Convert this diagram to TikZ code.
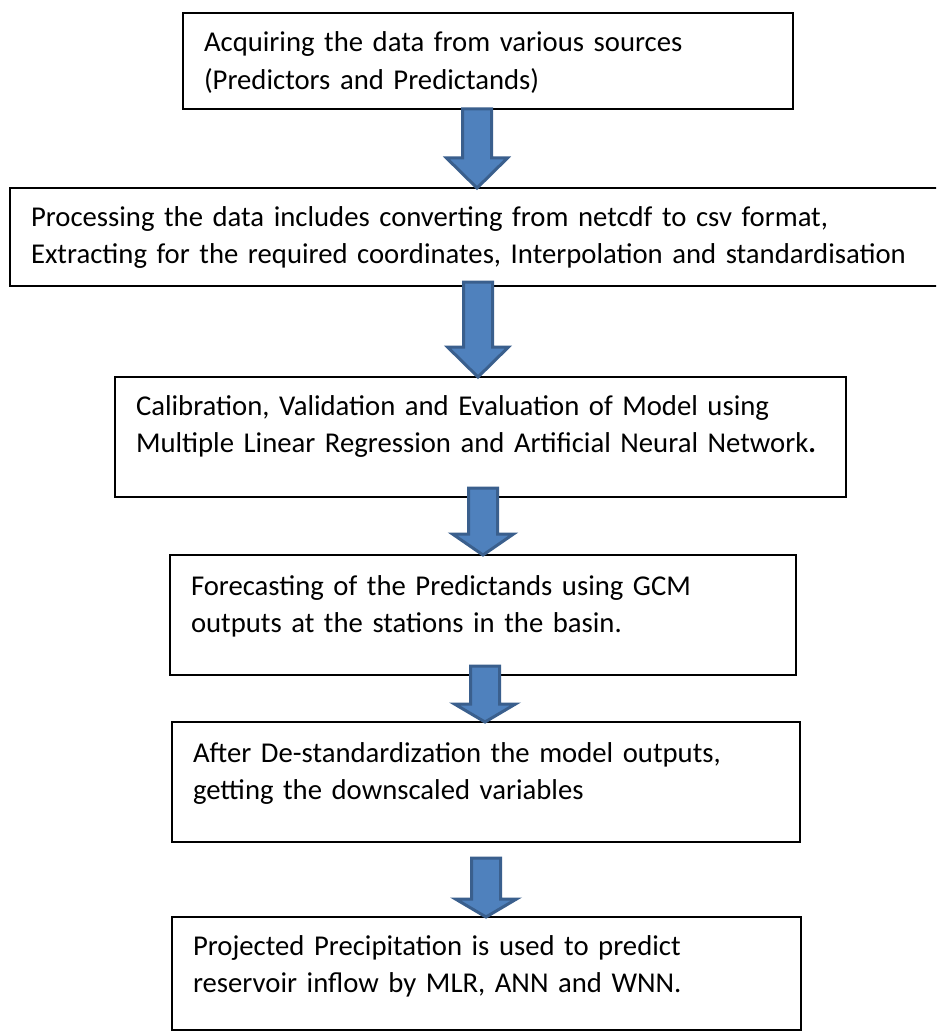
\documentclass[tikz,border=0pt]{standalone}
\usepackage{fontspec}
\setmainfont{Carlito}
\usetikzlibrary{calc}
\definecolor{arrowblue}{HTML}{4F81BD}
\definecolor{arrowedge}{HTML}{3A5F8D}
\tikzset{
    flowbox/.style 2 args={draw, line width=2pt, anchor=north west, outer sep=0pt,
        inner xsep=21pt, inner ysep=0pt, align=left, text height=#1pt, text depth=#2pt,
        font=\fontsize{28.7}{37.5}\selectfont},
    blockarrow/.style={fill=arrowblue, draw=arrowedge, line width=3pt, line join=miter},
}
\newcommand{\flowarrow}[3]{%
    \draw[blockarrow] ($(#1)+(-14.5,0)$) -- ($(#1)+(14.5,0)$) -- ($(#1 |- #2)+(14.5,-#3)$)
        -- ($(#1 |- #2)+(30.5,-#3)$) -- (#1 |- #2) -- ($(#1 |- #2)+(-30.5,-#3)$)
        -- ($(#1 |- #2)+(-14.5,-#3)$) -- cycle;
}
\begin{document}
\begin{tikzpicture}[x=1pt,y=-1pt]
    \clip (0,0) rectangle (936,1032);
    \fill[white] (0,0) rectangle (936,1032);
    \node[flowbox={39}{57}, text width=568pt] (acquire) at (183,13)
        {Acquiring the data from various sources\\(Predictors and Predictands)};
    \node[flowbox={38}{60}, text width=893pt] (process) at (10,188)
        {Processing the data includes converting from netcdf to csv format,\\Extracting for the required coordinates, Interpolation and standardisation};
    \node[flowbox={38}{82}, text width=689pt] (calib) at (115,377)
        {Calibration, Validation and Evaluation of Model using\\Multiple Linear Regression and Artificial Neural Network\textbf{.}};
    \node[flowbox={40}{80}, text width=584pt] (forecast) at (170,555)
        {Forecasting of the Predictands using GCM\\outputs at the stations in the basin.};
    \node[flowbox={40}{80}, text width=586pt] (destd) at (172,722)
        {After De-standardization the model outputs,\\getting the downscaled variables};
    \node[flowbox={38}{75}, text width=587pt] (inflow) at (172,917)
        {Projected Precipitation is used to predict\\reservoir inflow by MLR, ANN and WNN.};
    \coordinate (s1) at (477,109);
    \coordinate (s2) at (478,282);
    \coordinate (s3) at (483,488);
    \coordinate (s4) at (485,666);
    \coordinate (s5) at (486,858);
    \flowarrow{s1}{process.north}{30}
    \flowarrow{s2}{calib.north}{30}
    \flowarrow{s3}{forecast.north}{21}
    \flowarrow{s4}{destd.north}{18}
    \flowarrow{s5}{inflow.north}{18}
\end{tikzpicture}
\end{document}
